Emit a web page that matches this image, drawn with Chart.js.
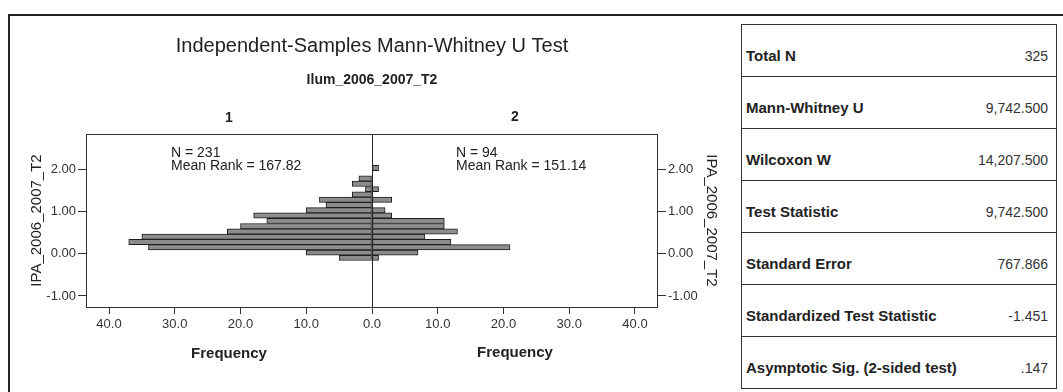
<!DOCTYPE html>
<html>
<head>
<meta charset="utf-8">
<script src="https://cdn.jsdelivr.net/npm/chart.js@4/dist/chart.umd.min.js"></script>
<style>
  body { margin: 0; background: #fff; width: 1063px; height: 392px; overflow: hidden; position: relative; font-family: "Liberation Sans", Arial, sans-serif; }
  #chartBox { position: absolute; left: 0; top: 0; width: 740px; height: 392px; }
  .rule { position: absolute; background: #222; }
  #stats { position: absolute; left: 741px; top: 24px; width: 314px; border: 1px solid #333; border-bottom: none; }
  #stats .row { height: 52px; border-bottom: 1px solid #333; display: flex; justify-content: space-between; align-items: center; padding: 10px 8px 0 4px; box-sizing: border-box; }
  #stats .lbl { font-weight: bold; font-size: 15px; color: #222; }
  #stats .val { font-size: 14px; color: #333; }
</style>
</head>
<body>
<div class="rule" style="left:8px; top:14px; width:1055px; height:2px;"></div>
<div class="rule" style="left:8px; top:14px; width:2px; height:378px;"></div>
<div id="chartBox"><canvas id="chart" width="740" height="392"></canvas></div>
<div id="stats"></div>
<script>
// histogram bins (midpoints of IPA_2006_2007_T2) and counts per group
const binMids = [-0.1, 0.025, 0.15, 0.275, 0.4, 0.525, 0.65, 0.775, 0.9, 1.025, 1.15, 1.275, 1.4, 1.525, 1.65, 1.775, 1.9, 2.025];
const group1Freq = [5, 10, 34, 37, 35, 22, 20, 16, 18, 10, 7, 8, 3, 1, 3, 2, 0, 0];
const group2Freq = [1, 7, 21, 12, 8, 13, 11, 11, 3, 2, 0, 3, 0, 1, 0, 0, 0, 1];

const groupNames = ['1', '2'];
const groupN = [231, 94];
const meanRanks = [167.82, 151.14];

const yTicks = [-1, 0, 1, 2];
const freqTicks = [-40, -30, -20, -10, 0, 10, 20, 30, 40];

const chartTitle = 'Independent-Samples Mann-Whitney U Test';
const fieldName = 'Ilum_2006_2007_T2';
const testField = 'IPA_2006_2007_T2';

const statLabels = ['Total N', 'Mann-Whitney U', 'Wilcoxon W', 'Test Statistic', 'Standard Error', 'Standardized Test Statistic', 'Asymptotic Sig. (2-sided test)'];
const statValues = ['325', '9,742.500', '14,207.500', '9,742.500', '767.866', '-1.451', '.147'];

// summary table
const table = document.getElementById('stats');
statLabels.forEach(function (label, i) {
  const row = document.createElement('div');
  row.className = 'row';
  row.innerHTML = '<span class="lbl">' + label + '</span><span class="val">' + statValues[i] + '</span>';
  table.appendChild(row);
});

function toPoints(freq, sign) {
  const pts = [];
  freq.forEach(function (f, i) {
    if (f > 0) pts.push({ x: sign * f, y: binMids[i] });
  });
  return pts;
}

const FONT = '"Liberation Sans", Arial, sans-serif';
Chart.defaults.font.family = FONT;
Chart.defaults.color = '#333';

// frame round the plot plus all the free text
const panelText = {
  id: 'panelText',
  afterDraw: function (chart) {
    const ctx = chart.ctx;
    const area = chart.chartArea;
    const mid = chart.scales.x.getPixelForValue(0);
    const leftMid = (area.left + mid) / 2;
    const rightMid = (mid + area.right) / 2;

    ctx.save();
    ctx.strokeStyle = '#333';
    ctx.lineWidth = 1;
    ctx.strokeRect(area.left + 0.5, area.top + 0.5, area.right - area.left - 1, area.bottom - area.top);

    ctx.fillStyle = '#222';
    ctx.textAlign = 'center';
    ctx.textBaseline = 'middle';
    ctx.font = '20px ' + FONT;
    ctx.fillText(chartTitle, mid, 46);
    ctx.font = 'bold 14px ' + FONT;
    ctx.fillText(fieldName, mid, 80);
    ctx.fillText(groupNames[0], leftMid, 118);
    ctx.fillText(groupNames[1], rightMid, 117);

    ctx.font = 'bold 15px ' + FONT;
    ctx.fillText('Frequency', leftMid, 354);
    ctx.fillText('Frequency', rightMid, 353);

    ctx.textAlign = 'left';
    ctx.font = '14px ' + FONT;
    const tx = [area.left + 85, mid + 84];
    for (let g = 0; g < 2; g++) {
      ctx.fillText('N = ' + groupN[g], tx[g], 153);
      ctx.fillText('Mean Rank = ' + meanRanks[g].toFixed(2), tx[g], 166);
    }
    ctx.restore();
  }
};

const barStyle = {
  backgroundColor: '#8c8c8c',
  borderColor: '#1e1e1e',
  borderWidth: 1,
  borderSkipped: false,
  grouped: false,
  barPercentage: 1,
  categoryPercentage: 1
};

function valueAxis(position, width, titlePad) {
  return {
    type: 'linear',
    position: position,
    min: -1.26,
    max: 2.827,
    offset: false,
    afterFit: function (s) { s.width = width; },
    afterBuildTicks: function (s) { s.ticks = yTicks.map(function (v) { return { value: v }; }); },
    grid: { offset: false, drawOnChartArea: false, tickColor: '#333', tickLength: 8 },
    border: { display: false },
    ticks: {
      padding: 2,
      font: { size: 13 },
      callback: function (v) { return v.toFixed(2); }
    },
    title: { display: true, text: testField, color: '#222', font: { size: 15 }, padding: { top: titlePad } }
  };
}

new Chart(document.getElementById('chart').getContext('2d'), {
  type: 'bar',
  data: {
    datasets: [
      Object.assign({ label: groupNames[0], data: toPoints(group1Freq, -1) }, barStyle),
      Object.assign({ label: groupNames[1], data: toPoints(group2Freq, 1) }, barStyle)
    ]
  },
  options: {
    indexAxis: 'y',
    responsive: false,
    animation: false,
    layout: { padding: { top: 134, left: 0, right: 0, bottom: 0 } },
    plugins: {
      legend: { display: false },
      tooltip: { enabled: false }
    },
    scales: {
      x: {
        type: 'linear',
        min: -43.5,
        max: 43.5,
        afterFit: function (s) { s.height = 85; },
        afterBuildTicks: function (s) { s.ticks = freqTicks.map(function (v) { return { value: v }; }); },
        grid: {
          z: 1,
          color: function (c) { return c.tick && c.tick.value === 0 ? '#222' : 'rgba(0,0,0,0)'; },
          tickColor: '#333',
          tickLength: 7
        },
        border: { display: false },
        ticks: {
          padding: 3,
          font: { size: 13 },
          callback: function (v) { return Math.abs(v).toFixed(1); }
        }
      },
      y: valueAxis('left', 86, 28),
      y2: valueAxis('right', 82, 20)
    }
  },
  plugins: [panelText]
});
</script>
</body>
</html>
